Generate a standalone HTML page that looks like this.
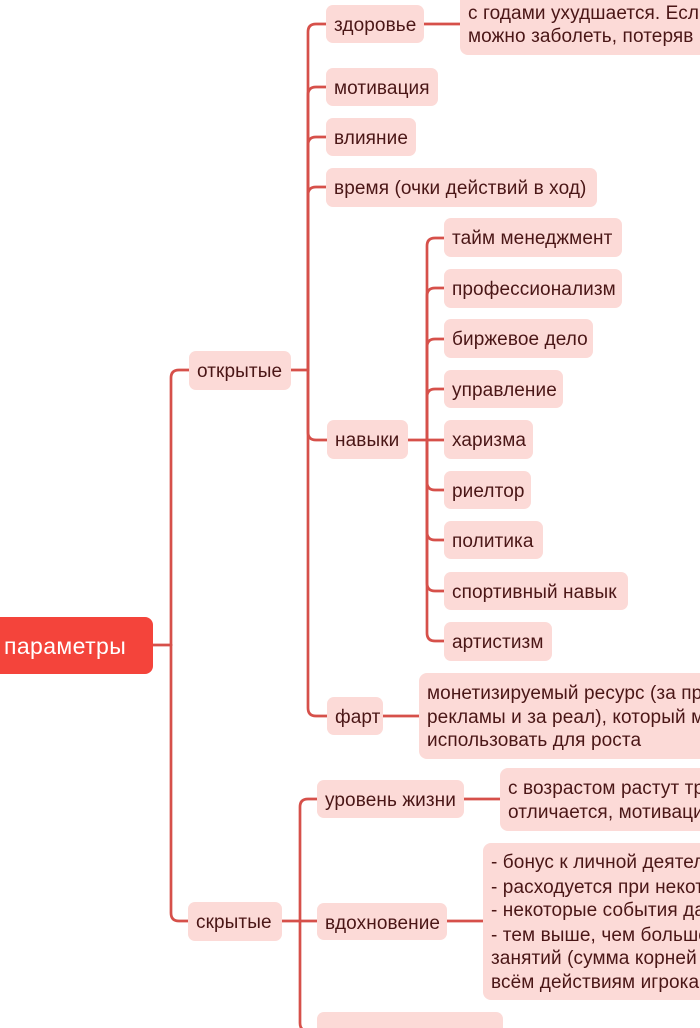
<!DOCTYPE html>
<html><head><meta charset="utf-8">
<style>
html,body{margin:0;padding:0;background:#fff;}
html{width:700px;height:1028px;overflow:hidden;}
body{width:700px;height:1028px;overflow:hidden;position:relative;font-family:"Liberation Sans","Noto Sans CJK SC",sans-serif;}
.n{position:absolute;background:#fcdad7;border-radius:7px;color:#4a1616;font-size:19px;line-height:41px;padding-left:8px;box-sizing:border-box;white-space:nowrap;overflow:hidden;letter-spacing:0.1px;}
.d{position:absolute;background:#fcdad7;border-radius:8px;color:#4a1616;font-size:19px;white-space:nowrap;overflow:hidden;box-sizing:border-box;letter-spacing:0.1px;}
.d span{position:absolute;left:8px;line-height:24px;}
.root{position:absolute;background:#f4443b;border-radius:8px;color:#fff;font-size:23px;line-height:58px;white-space:nowrap;left:-20px;top:617px;width:173px;height:57px;padding-left:24px;box-sizing:border-box;letter-spacing:0.4px;}
svg{position:absolute;left:0;top:0;}
</style></head><body>
<svg width="700" height="1028" viewBox="0 0 700 1028" fill="none" stroke="#d6504a" stroke-width="2.7" stroke-linecap="round">
<path d="M153,645 H171"/>
<path d="M171,645 V378 Q171,370 179,370 H189"/>
<path d="M171,645 V913 Q171,921 179,921 H188"/>
<path d="M291,370 H308"/>
<path d="M308,370 V32 Q308,24 316,24 H326"/>
<path d="M308,370 V95 Q308,87 316,87 H326"/>
<path d="M308,370 V145 Q308,137 316,137 H326"/>
<path d="M308,370 V195 Q308,187 316,187 H326"/>
<path d="M308,370 V432 Q308,440 316,440 H327"/>
<path d="M308,370 V708 Q308,716 316,716 H327"/>
<path d="M424,24 H461"/>
<path d="M383,716 H419"/>
<path d="M408,440 H444"/>
<path d="M427,440 V246 Q427,238 435,238 H444"/>
<path d="M427,440 V296 Q427,288 435,288 H444"/>
<path d="M427,440 V347 Q427,339 435,339 H444"/>
<path d="M427,440 V397 Q427,389 435,389 H444"/>
<path d="M427,440 V482 Q427,490 435,490 H444"/>
<path d="M427,440 V532 Q427,540 435,540 H444"/>
<path d="M427,440 V583 Q427,591 435,591 H444"/>
<path d="M427,440 V633 Q427,641 435,641 H444"/>
<path d="M282,921 H317"/>
<path d="M300,921 V807 Q300,799 308,799 H317"/>
<path d="M300,921 V1023 Q300,1031 308,1031 H317"/>
<path d="M464,799 H500"/>
<path d="M447,921 H483"/>
</svg>

<div class="root">параметры</div>

<div class="n" style="left:189px;top:351px;width:102px;height:39px;">открытые</div>
<div class="n" style="left:188px;top:902px;width:94px;height:39px;">скрытые</div>

<div class="n" style="left:326px;top:5px;width:98px;height:38px;">здоровье</div>
<div class="n" style="left:326px;top:68px;width:112px;height:38px;">мотивация</div>
<div class="n" style="left:326px;top:118px;width:90px;height:38px;">влияние</div>
<div class="n" style="left:326px;top:168px;width:271px;height:39px;">время (очки действий в ход)</div>
<div class="n" style="left:327px;top:420px;width:81px;height:39px;">навыки</div>
<div class="n" style="left:327px;top:697px;width:56px;height:38px;">фарт</div>

<div class="n" style="left:444px;top:218px;width:178px;height:39px;">тайм менеджмент</div>
<div class="n" style="left:444px;top:269px;width:178px;height:39px;">профессионализм</div>
<div class="n" style="left:444px;top:319px;width:149px;height:39px;">биржевое дело</div>
<div class="n" style="left:444px;top:370px;width:119px;height:38px;">управление</div>
<div class="n" style="left:444px;top:420px;width:89px;height:39px;">харизма</div>
<div class="n" style="left:444px;top:471px;width:87px;height:38px;">риелтор</div>
<div class="n" style="left:444px;top:521px;width:99px;height:38px;">политика</div>
<div class="n" style="left:444px;top:572px;width:184px;height:38px;">спортивный навык</div>
<div class="n" style="left:444px;top:622px;width:108px;height:39px;">артистизм</div>

<div class="n" style="left:317px;top:780px;width:147px;height:38px;">уровень жизни</div>
<div class="n" style="left:317px;top:903px;width:130px;height:37px;">вдохновение</div>
<div class="n" style="left:317px;top:1012px;width:186px;height:40px;"></div>

<div class="d" style="left:460px;top:-10px;width:260px;height:65px;">
<span style="top:12px;">с годами ухудшается. Если</span>
<span style="top:35px;">можно заболеть, потеряв</span>
</div>

<div class="d" style="left:419px;top:673px;width:300px;height:86px;">
<span style="top:9px;">монетизируемый ресурс (за просмотр</span>
<span style="top:33px;">рекламы и за реал), который можно</span>
<span style="top:56px;">использовать для роста</span>
</div>

<div class="d" style="left:500px;top:768px;width:220px;height:63px;">
<span style="top:9px;">с возрастом растут требования</span>
<span style="top:33px;">отличается, мотивация</span>
</div>

<div class="d" style="left:483px;top:843px;width:240px;height:157px;">
<span style="top:8px;">- бонус к личной деятельности</span>
<span style="top:33px;">- расходуется при некоторых</span>
<span style="top:56px;">- некоторые события дают</span>
<span style="top:81px;">- тем выше, чем больше</span>
<span style="top:104px;">занятий (сумма корней по</span>
<span style="top:128px;">всём действиям игрока</span>
</div>

</body></html>
